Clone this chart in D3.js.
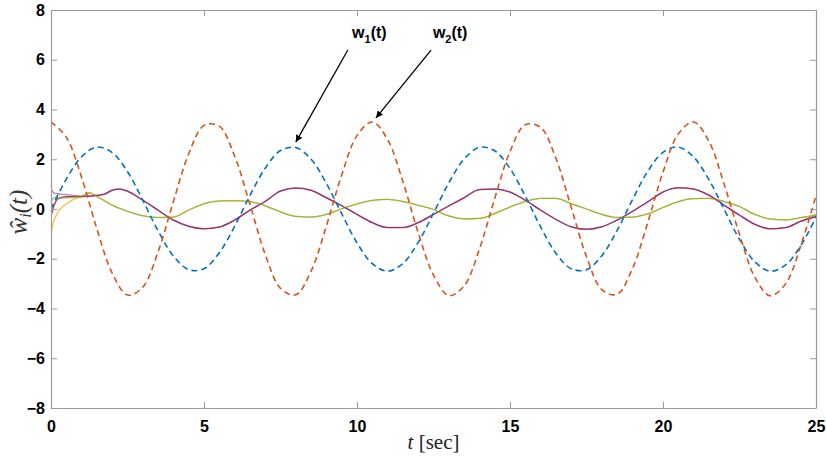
<!DOCTYPE html>
<html>
<head>
<meta charset="utf-8">
<script src="https://cdn.jsdelivr.net/npm/d3@7/dist/d3.min.js"></script>
<style>
  html, body { margin: 0; padding: 0; background: #fff; }
  svg { display: block; }
</style>
</head>
<body>
<svg id="chart" width="827" height="459"></svg>
<script>
// ---------- DATA ----------
const xTicks = [0, 5, 10, 15, 20, 25];
const yTicks = [-8, -6, -4, -2, 0, 2, 4, 6, 8];

// time samples for the dashed reference signals
const tDash = [0,0.5,1,1.5,2,2.5,3,3.5,4,4.5,5,5.5,6,6.5,7,7.5,8,8.5,9,9.5,10,10.5,11,11.5,12,12.5,13,13.5,14,14.5,15,15.5,16,16.5,17,17.5,18,18.5,19,19.5,20,20.5,21,21.5,22,22.5,23,23.5,24,24.5,25];
const w1 = [0,1.20,2.10,2.49,2.27,1.50,0.35,-0.88,-1.89,-2.44,-2.40,-1.76,-0.70,0.54,1.64,2.35,2.47,2.00,1.03,-0.19,-1.36,-2.20,-2.50,-2.19,-1.34,-0.17,1.05,2.01,2.48,2.34,1.63,0.52,-0.72,-1.78,-2.40,-2.44,-1.88,-0.86,0.37,1.51,2.28,2.49,2.09,1.18,-0.02,-1.22,-2.12,-2.50,-2.26,-1.48,-0.33];
const w2 = [3.50,2.89,1.27,-0.80,-2.58,-3.46,-3.14,-1.72,0.30,2.22,3.36,3.33,2.13,0.19,-1.82,-3.19,-3.45,-2.50,-0.68,1.37,2.95,3.50,2.79,1.10,-0.95,-2.66,-3.48,-3.09,-1.61,0.42,2.31,3.39,3.28,2.04,0.07,-1.92,-3.24,-3.43,-2.40,-0.55,1.48,3.02,3.50,2.72,0.99,-1.02,-2.74,-3.49,-3.02,-1.48,0.54];

// time samples for the estimated weights (solid lines)
const tSolid = [0,0.1,0.2,0.3,0.5,0.75,1,1.25,1.5,1.75,2,2.25,2.5,3,3.5,4,4.5,5,5.5,6,6.5,7,7.5,8,8.5,9,9.5,10,10.5,11,11.5,12,12.5,13,13.5,14,14.5,15,15.5,16,16.5,17,17.5,18,18.5,19,19.5,20,20.5,21,21.5,22,22.5,23,23.5,24,24.5,25];
const w3 = [-0.97,-0.45,-0.20,0.00,0.20,0.40,0.48,0.64,0.50,0.33,0.16,0.03,-0.09,-0.27,-0.34,-0.32,-0.04,0.22,0.32,0.33,0.30,0.13,-0.12,-0.30,-0.33,-0.22,0.01,0.20,0.35,0.39,0.30,0.15,-0.02,-0.28,-0.40,-0.38,-0.18,0.08,0.30,0.43,0.43,0.21,0.00,-0.22,-0.34,-0.33,-0.20,0.06,0.30,0.42,0.43,0.30,0.10,-0.22,-0.40,-0.44,-0.35,-0.24];
const w4 = [0.80,0.64,0.62,0.60,0.58,0.55,0.52,0.53,0.56,0.61,0.77,0.81,0.73,0.36,-0.04,-0.44,-0.69,-0.79,-0.72,-0.44,-0.04,0.31,0.73,0.85,0.76,0.46,0.14,-0.21,-0.54,-0.74,-0.74,-0.54,-0.21,0.13,0.46,0.79,0.81,0.69,0.36,-0.04,-0.41,-0.71,-0.81,-0.71,-0.44,-0.09,0.29,0.69,0.86,0.81,0.56,0.16,-0.24,-0.61,-0.79,-0.74,-0.49,-0.29];
const w5 = [0.30,0.45,0.46,0.44,0.45,0.47,0.51,0.67,0.51,0.32,0.15,0.02,-0.10,-0.28,-0.35,-0.33,-0.05,0.22,0.33,0.34,0.30,0.13,-0.12,-0.30,-0.33,-0.22,0.01,0.21,0.35,0.39,0.31,0.15,-0.02,-0.28,-0.40,-0.38,-0.18,0.08,0.31,0.43,0.43,0.22,0.00,-0.22,-0.34,-0.33,-0.20,0.06,0.30,0.42,0.43,0.30,0.10,-0.22,-0.40,-0.44,-0.35,-0.24];
const w6 = [-0.30,0.15,0.38,0.45,0.50,0.50,0.49,0.51,0.54,0.59,0.75,0.80,0.71,0.35,-0.05,-0.45,-0.70,-0.80,-0.73,-0.45,-0.05,0.30,0.72,0.84,0.75,0.45,0.13,-0.22,-0.55,-0.75,-0.75,-0.55,-0.22,0.12,0.45,0.78,0.80,0.68,0.35,-0.05,-0.42,-0.72,-0.82,-0.72,-0.45,-0.10,0.28,0.68,0.85,0.80,0.55,0.15,-0.25,-0.62,-0.80,-0.75,-0.50,-0.30];

const dashedSeries = [
  { name: "w1", t: tDash, v: w1, color: "#0072BD" },
  { name: "w2", t: tDash, v: w2, color: "#D95319" }
];
// drawing order (later on top)
const solidSeries = [
  { name: "w6", t: tSolid, v: w6, color: "#A2142F", op: 0.85 },
  { name: "w3", t: tSolid, v: w3, color: "#EDB120", op: 0.8 },
  { name: "w5", t: tSolid, v: w5, color: "#77AC30", op: 0.7 },
  { name: "w4", t: tSolid, v: w4, color: "#7E2F8E", op: 0.6 }
];

// annotation labels (data coordinates)
const notes = [
  { sub: "1", tx: 9.84, ty: 6.87, x0: 9.70, y0: 6.39, x1: 8.00, y1: 2.69 },
  { sub: "2", tx: 12.48, ty: 6.87, x0: 12.42, y0: 6.39, x1: 10.62, y1: 3.66 }
];

// ---------- DRAW ----------
const svg = d3.select("#chart");
const W = 827, H = 459;
const L = 51, R = 816, T = 10, B = 408;

svg.append("rect").attr("width", W).attr("height", H).attr("fill", "#fff");

const x = d3.scaleLinear().domain([0, 25]).range([L, R]);
const y = d3.scaleLinear().domain([-8, 8]).range([B, T]);

const axisColor = "#9a9a9a";
const tickFont = "'Liberation Sans', Arial, sans-serif";

function styleAxis(g, showLabels) {
  g.selectAll("path.domain").attr("stroke", axisColor).attr("stroke-width", 1.2);
  g.selectAll(".tick line").attr("stroke", axisColor).attr("stroke-width", 1);
  g.selectAll(".tick text")
    .attr("fill", "#000")
    .attr("font-family", tickFont)
    .attr("font-weight", "bold")
    .attr("font-size", 16);
  if (!showLabels) g.selectAll(".tick text").remove();
}

const clipId = "plotclip";
svg.append("clipPath").attr("id", clipId)
  .append("rect").attr("x", L).attr("y", T).attr("width", R - L).attr("height", B - T);

const plot = svg.append("g").attr("clip-path", `url(#${clipId})`);

const lineDash = d3.line()
  .x((d) => x(d[0])).y((d) => y(d[1]))
  .curve(d3.curveCatmullRom.alpha(0.5));
const lineSolid = d3.line()
  .x((d) => x(d[0])).y((d) => y(d[1]))
  .curve(d3.curveMonotoneX);

solidSeries.forEach((s) => {
  plot.append("path")
    .datum(s.t.map((t, i) => [t, s.v[i]]))
    .attr("fill", "none")
    .attr("stroke", s.color)
    .attr("stroke-width", 1.3)
    .attr("stroke-opacity", s.op)
    .attr("d", lineSolid);
});

dashedSeries.forEach((s) => {
  plot.append("path")
    .datum(s.t.map((t, i) => [t, s.v[i]]))
    .attr("fill", "none")
    .attr("stroke", s.color)
    .attr("stroke-width", 1.6)
    .attr("stroke-dasharray", "6,4")
    .attr("d", lineDash);
});

// axes (MATLAB-style box with inward ticks)
svg.append("g").attr("transform", `translate(0,${B})`)
  .call(d3.axisBottom(x).tickValues(xTicks).tickSize(-6).tickSizeOuter(0).tickPadding(13))
  .call((g) => styleAxis(g, true));
svg.append("g").attr("transform", `translate(0,${T})`)
  .call(d3.axisTop(x).tickValues(xTicks).tickSize(-6).tickSizeOuter(0))
  .call((g) => styleAxis(g, false));
svg.append("g").attr("transform", `translate(${L},0)`)
  .call(d3.axisLeft(y).tickValues(yTicks).tickSize(-6).tickSizeOuter(0).tickPadding(6))
  .call((g) => styleAxis(g, true));
svg.append("g").attr("transform", `translate(${R},0)`)
  .call(d3.axisRight(y).tickValues(yTicks).tickSize(-6).tickSizeOuter(0))
  .call((g) => styleAxis(g, false));

// axis labels
const serif = "'Liberation Serif', 'DejaVu Serif', 'Times New Roman', serif";
const xl = svg.append("text")
  .attr("x", (L + R) / 2).attr("y", 449)
  .attr("text-anchor", "middle")
  .attr("font-family", serif).attr("font-size", 21).attr("fill", "#222");
xl.append("tspan").attr("font-style", "italic").text("t");
xl.append("tspan").text(" [sec]");

const yl = svg.append("text")
  .attr("transform", `translate(27,${212}) rotate(-90)`)
  .attr("text-anchor", "middle")
  .attr("font-family", serif).attr("font-size", 25).attr("fill", "#333")
  .attr("font-style", "italic");
yl.append("tspan").text("ŵ");
yl.append("tspan").attr("font-size", 16).attr("dy", 4).text("i");
yl.append("tspan").attr("dy", -4).text("(t)");

// annotations with arrows
const defs = svg.append("defs");
defs.append("marker").attr("id", "arrowhead")
  .attr("viewBox", "0 0 10 10").attr("refX", 10).attr("refY", 5)
  .attr("markerWidth", 7).attr("markerHeight", 7)
  .attr("markerUnits", "userSpaceOnUse")
  .attr("orient", "auto")
  .append("path").attr("d", "M0,0 L10,5 L0,10 Z").attr("fill", "#000");

notes.forEach((n) => {
  svg.append("line")
    .attr("x1", x(n.x0)).attr("y1", y(n.y0))
    .attr("x2", x(n.x1)).attr("y2", y(n.y1))
    .attr("stroke", "#000").attr("stroke-width", 1.3)
    .attr("marker-end", "url(#arrowhead)");
  const t = svg.append("text")
    .attr("x", x(n.tx)).attr("y", y(n.ty))
    .attr("font-family", tickFont).attr("font-weight", "bold")
    .attr("font-size", 16).attr("fill", "#000");
  t.append("tspan").text("w");
  t.append("tspan").attr("font-size", 11).attr("dy", 5).text(n.sub);
  t.append("tspan").attr("dy", -5).text("(t)");
});
</script>
</body>
</html>
